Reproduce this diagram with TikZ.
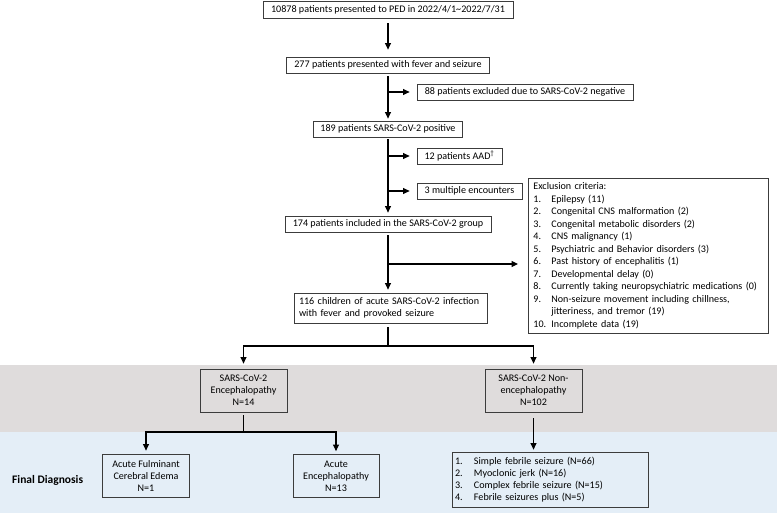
\documentclass[tikz,border=0pt]{standalone}
\usepackage{fontspec}
\setmainfont{Carlito}
\usetikzlibrary{arrows.meta}
\definecolor{graybg}{HTML}{DFDCDC}
\definecolor{bluebg}{HTML}{E4EEF7}
\definecolor{boxline}{HTML}{3C3C3C}
\begin{document}
\begin{tikzpicture}[x=1pt,y=-1pt,
  box/.style={draw=boxline, line width=0.8pt, inner sep=0pt, align=center,
    font=\fontsize{10.1}{12}\selectfont},
  line/.style={line width=1.1pt, black},
  arr/.style={line width=1.1pt, black, -{Triangle[length=6.5pt,width=6pt]}}]
\useasboundingbox (0,0) rectangle (777,516);
\fill[graybg] (0,365) rectangle (777,432);
\fill[bluebg] (0,432) rectangle (777,513);

% main column
\node[box, minimum width=250, minimum height=17] (n1) at (388,9.5)
  {10878 patients presented to PED in 2022/4/1\textasciitilde 2022/7/31};
\node[box, minimum width=203, minimum height=16] (n277) at (388,65)
  {277 patients presented with fever and seizure};
\node[box, minimum width=216, minimum height=16] (n88) at (525,92)
  {88 patients excluded due to SARS-CoV-2 negative};
\node[box, minimum width=149, minimum height=16] (n189) at (388,129)
  {189 patients SARS-CoV-2 positive};
\node[box, minimum width=85, minimum height=16] (nAAD) at (459.5,156)
  {12 patients AAD\textsuperscript{\textdagger}};
\node[box, minimum width=105, minimum height=16] (nmult) at (469.5,191)
  {3 multiple encounters};
\node[box, minimum width=206, minimum height=16] (n174) at (388,224)
  {174 patients included in the SARS-CoV-2 group};
\node[box, minimum width=240, minimum height=155, anchor=north west,
  align=left, text width=230pt, inner xsep=5pt,
  font=\fontsize{10.1}{12.5}\selectfont] (excl) at (528,178)
  {Exclusion criteria:\\
   \makebox[18pt][l]{1.}Epilepsy (11)\\
   \makebox[18pt][l]{2.}Congenital CNS malformation (2)\\
   \makebox[18pt][l]{3.}Congenital metabolic disorders (2)\\
   \makebox[18pt][l]{4.}CNS malignancy (1)\\
   \makebox[18pt][l]{5.}Psychiatric and Behavior disorders (3)\\
   \makebox[18pt][l]{6.}Past history of encephalitis (1)\\
   \makebox[18pt][l]{7.}Developmental delay (0)\\
   \makebox[18pt][l]{8.}Currently taking neuropsychiatric medications (0)\\
   \makebox[18pt][l]{9.}Non-seizure movement including chillness,\\
   \hspace*{18pt}jitteriness, and tremor (19)\\
   \makebox[18pt][l]{10.}Incomplete data (19)};
\node[box, minimum width=193, minimum height=30, align=left,
  text width=183pt, inner xsep=5pt] (n116) at (390.5,308)
  {116 children of acute SARS-CoV-2 infection\\with fever and provoked seizure};

% second level
\node[box, minimum width=87, minimum height=43] (enc) at (243.5,390.5)
  {SARS-CoV-2\\Encephalopathy\\N=14};
\node[box, minimum width=97, minimum height=43] (nonenc) at (533.5,390.5)
  {SARS-CoV-2 Non-\\encephalopathy\\N=102};

% final level
\node[box, minimum width=87, minimum height=43] (fulm) at (146,475.5)
  {Acute Fulminant\\Cerebral Edema\\N=1};
\node[box, minimum width=86, minimum height=43] (acenc) at (336,476)
  {Acute\\Encephalopathy\\N=13};
\node[box, minimum width=196, minimum height=55, align=left,
  text width=190pt, inner xsep=3pt] (list) at (550,479.5)
  {\makebox[19pt][l]{1.}Simple febrile seizure (N=66)\\
   \makebox[19pt][l]{2.}Myoclonic jerk (N=16)\\
   \makebox[19pt][l]{3.}Complex febrile seizure (N=15)\\
   \makebox[19pt][l]{4.}Febrile seizures plus (N=5)};
\node[font=\fontsize{11.5}{13}\selectfont\bfseries, anchor=west, inner sep=0pt]
  (fd) at (12,480) {Final Diagnosis};

% connectors
\draw[arr, shorten <=5pt, shorten >=7pt] (n1.south) -- (n1.south |- n277.north);
\draw[arr, shorten <=3pt, shorten >=2pt] (n277.south) -- (n277.south |- n189.north);
\draw[arr, shorten >=7pt] (n277.south |- n88.west) -- (n88.west);
\draw[arr, shorten <=2pt, shorten >=3pt] (n189.south) -- (n189.south |- n174.north);
\draw[arr, shorten >=7pt] (n189.south |- nAAD.west) -- (nAAD.west);
\draw[arr, shorten >=7pt] (n189.south |- nmult.west) -- (nmult.west);
\coordinate (bx) at (388,264);
\draw[arr, shorten <=3pt, shorten >=3pt] (n174.south) -- (n174.south |- n116.north);
\draw[arr, shorten >=10pt] (bx) -- (bx -| excl.west);
\coordinate (s1) at (388,346);
\draw[line, shorten <=4pt] (n116.south -| s1) -- (s1);
\draw[arr, shorten >=5pt] (s1) -| (enc.north);
\draw[arr, shorten >=5pt] (s1) -| (nonenc.north);
\coordinate (s2) at (243.5,432);
\draw[line, shorten <=3pt] (enc.south) -- (s2);
\draw[arr, shorten >=3pt] (s2) -| (fulm.north);
\draw[arr, shorten >=3pt] (s2) -| (acenc.north);
\draw[arr, shorten <=6pt, shorten >=2pt] (nonenc.south) -- (nonenc.south |- list.north);
\end{tikzpicture}
\end{document}
